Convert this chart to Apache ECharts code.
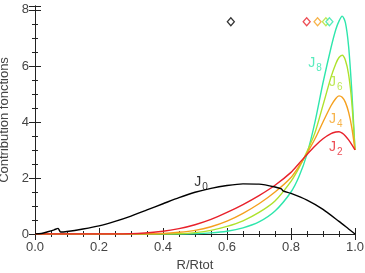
<!DOCTYPE html>
<html>
<head>
<meta charset="utf-8">
<script src="https://cdn.jsdelivr.net/npm/echarts@6/dist/echarts.min.js"></script>
<style>
  html, body { margin: 0; padding: 0; background: #fff; }
  #main { width: 365px; height: 273px; }
</style>
</head>
<body>
<div id="main"></div>
<script>
// R/Rtot for J0 (extra points around the two kinks)
var r0 = [0, 0.02, 0.04, 0.06, 0.072, 0.08, 0.1, 0.15, 0.2, 0.25, 0.3, 0.35, 0.4, 0.45, 0.5, 0.55, 0.6, 0.65, 0.7, 0.75, 0.77, 0.775, 0.8, 0.85, 0.9, 0.95, 0.98, 1.0];
var j0 = [0, 0.02, 0.08, 0.15, 0.2, 0.07, 0.09, 0.18, 0.29, 0.45, 0.64, 0.86, 1.08, 1.3, 1.49, 1.63, 1.73, 1.79, 1.78, 1.68, 1.61, 1.54, 1.45, 1.21, 0.88, 0.45, 0.18, 0];

// R/Rtot for J2..J8
var r = [0, 0.1, 0.2, 0.3, 0.4, 0.45, 0.5, 0.55, 0.6, 0.65, 0.7, 0.75, 0.8, 0.825, 0.85, 0.875, 0.9, 0.925, 0.94, 0.95, 0.96, 0.97, 0.98, 0.99, 1.0];
var j2 = [0, 0, 0, 0.01, 0.1, 0.19, 0.33, 0.52, 0.77, 1.05, 1.37, 1.74, 2.2, 2.52, 2.84, 3.14, 3.4, 3.58, 3.64, 3.65, 3.6, 3.5, 3.36, 3.19, 3.0];
var j4 = [0, 0, 0, 0, 0.02, 0.06, 0.13, 0.26, 0.46, 0.74, 1.08, 1.5, 2.02, 2.42, 2.88, 3.4, 4.0, 4.58, 4.84, 4.93, 4.88, 4.7, 4.35, 3.8, 3.0];
var j6 = [0, 0, 0, 0, 0, 0.01, 0.05, 0.13, 0.27, 0.47, 0.77, 1.18, 1.88, 2.36, 2.94, 3.62, 4.6, 5.6, 6.08, 6.3, 6.38, 6.2, 5.7, 4.7, 3.0];
var j8 = [0, 0, 0, 0, 0, 0, 0.01, 0.04, 0.1, 0.22, 0.43, 0.82, 1.5, 2.05, 2.85, 4.0, 5.4, 6.65, 7.3, 7.6, 7.78, 7.55, 6.7, 5.1, 3.0];

// diamonds at the top (mean radius of each function)
var meanR = [0.612, 0.849, 0.883, 0.909, 0.92];
var meanY = 7.58;

var names = ['J0', 'J2', 'J4', 'J6', 'J8'];
var subs = ['0', '2', '4', '6', '8'];
var colors = ['#000000', '#e8212b', '#f5a01e', '#aee22c', '#2ee6ac'];
// label anchor points (data coords)
var labX = [0.519, 0.94, 0.94, 0.94, 0.875];
var labY = [1.89, 3.14, 4.14, 5.46, 6.14];

var xTicks = [0, 0.2, 0.4, 0.6, 0.8, 1.0];
var yTicks = [0, 2, 4, 6, 8];

function pairs(xs, ys) {
    var out = [];
    for (var i = 0; i < xs.length; i++) {
        out.push([xs[i], ys[i]]);
    }
    return out;
}

var font = 'Liberation Sans, Arial, sans-serif';
var axisCol = '#222';

var series = [];
var curves = [j0, j2, j4, j6, j8];
for (var k = 0; k < curves.length; k++) {
    series.push({
        name: names[k],
        type: 'line',
        data: pairs(k === 0 ? r0 : r, curves[k]),
        smooth: 0.25,
        showSymbol: false,
        lineStyle: { color: colors[k], width: 1.4 },
        z: 10 - k
    });
}
// hollow diamonds
for (var k = 0; k < meanR.length; k++) {
    series.push({
        type: 'scatter',
        data: [[meanR[k], meanY]],
        symbol: 'diamond',
        symbolSize: [7, 8],
        itemStyle: { color: '#fff', borderColor: colors[k], borderWidth: 1.3 },
        z: 20
    });
}
// J labels with subscript
for (var k = 0; k < names.length; k++) {
    series.push({
        type: 'scatter',
        data: [[labX[k], labY[k]]],
        symbolSize: 0,
        silent: true,
        label: {
            show: true,
            position: 'inside',
            formatter: '{j|J}{s|' + subs[k] + '}',
            rich: {
                j: { fontFamily: font, fontSize: 14, color: colors[k], verticalAlign: 'bottom', lineHeight: 16 },
                s: { fontFamily: font, fontSize: 10, color: colors[k], verticalAlign: 'bottom', lineHeight: 12, padding: [0, 0, -3, 1] }
            }
        },
        z: 30
    });
}

var myChart = echarts.init(document.getElementById('main'));
myChart.setOption({
    animation: false,
    grid: { left: 35, right: 10, top: 6, bottom: 39, containLabel: false, outerBoundsMode: 'none' },
    xAxis: [{
        type: 'value',
        min: 0, max: 1, interval: 0.2,
        position: 'bottom',
        name: 'R/Rtot',
        nameLocation: 'middle',
        nameGap: 25,
        nameTextStyle: { fontFamily: font, fontSize: 13, color: '#444' },
        axisLine: { show: true, lineStyle: { color: axisCol, width: 1 } },
        axisTick: { show: true, inside: true, length: 6, lineStyle: { color: axisCol } },
        minorTick: { show: true, splitNumber: 4, length: 3, lineStyle: { color: axisCol } },
        axisLabel: {
            margin: 7, fontFamily: font, fontSize: 13, color: '#444',
            formatter: function (v) { return xTicks.indexOf(Math.round(v * 10) / 10) >= 0 ? v.toFixed(1) : ''; }
        },
        splitLine: { show: false }
    }, {
        type: 'value',
        min: 0, max: 1, interval: 0.2,
        position: 'top',
        axisLine: { show: true, lineStyle: { color: axisCol, width: 1 } },
        axisTick: { show: true, inside: true, length: 6, lineStyle: { color: axisCol } },
        minorTick: { show: true, splitNumber: 4, length: 3, lineStyle: { color: axisCol } },
        axisLabel: { show: false },
        splitLine: { show: false }
    }],
    yAxis: [{
        type: 'value',
        min: 0, max: 8.14, interval: 2,
        position: 'left',
        name: 'Contribution fonctions',
        nameLocation: 'middle',
        nameGap: 20,
        nameTextStyle: { fontFamily: font, fontSize: 13, color: '#444' },
        axisLine: { show: true, lineStyle: { color: axisCol, width: 1 } },
        axisTick: { show: true, inside: true, length: 6, lineStyle: { color: axisCol } },
        minorTick: { show: true, splitNumber: 4, length: 3, lineStyle: { color: axisCol } },
        axisLabel: {
            margin: 6, fontFamily: font, fontSize: 13, color: '#444',
            formatter: function (v) { return yTicks.indexOf(v) >= 0 ? String(v) : ''; }
        },
        splitLine: { show: false }
    }, {
        type: 'value',
        min: 0, max: 8.14, interval: 2,
        position: 'right',
        axisLine: { show: true, lineStyle: { color: axisCol, width: 1 } },
        axisTick: { show: true, inside: true, length: 6, lineStyle: { color: axisCol } },
        minorTick: { show: true, splitNumber: 4, length: 3, lineStyle: { color: axisCol } },
        axisLabel: { show: false },
        splitLine: { show: false }
    }],
    series: series
});
</script>
</body>
</html>
